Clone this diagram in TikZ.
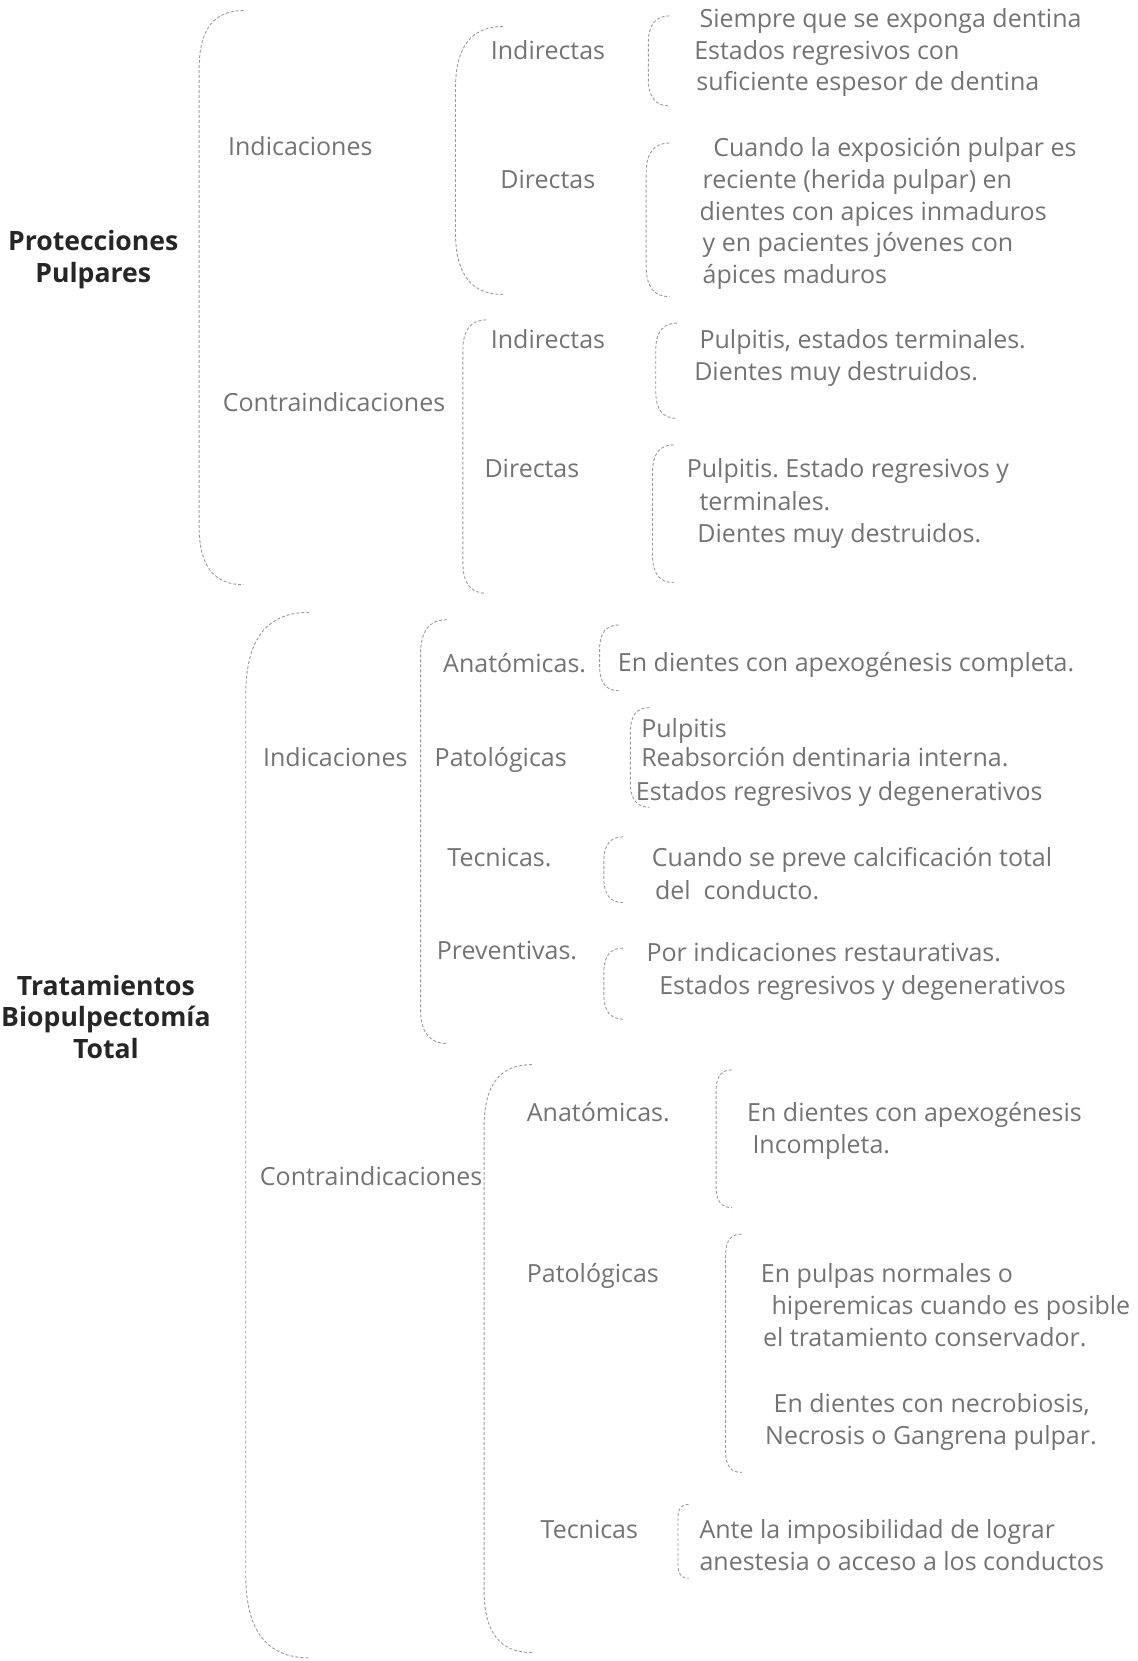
\documentclass[tikz,border=0pt]{standalone}
\usepackage{fontspec}
\setmainfont{Open Sans}
\usepackage{xcolor}
\frenchspacing

\tikzset{
	brk/.style={draw=black!40, line width=0.45pt, dash pattern=on 1.5pt off 1pt},
	title/.style={align=center, inner sep=0pt, font=\fontsize{13.3}{15.9}\selectfont\bfseries, text=black!85},
	lbl/.style={anchor=west, inner sep=0pt, font=\fontsize{12.5}{15.9}\selectfont, text=black!55, text height=8.8pt, text depth=2.7pt},
}

% left bracket: x, top, bottom, curl width
\newcommand{\openbrk}[4]{%
	\draw[brk] (#1+#4,#2) .. controls (#1+0.35*#4,#2) and (#1,#2+0.4*#4) .. (#1,#2+1.3*#4)
		-- (#1,#3-1.3*#4) .. controls (#1,#3-0.4*#4) and (#1+0.35*#4,#3) .. (#1+#4,#3);}

\begin{document}
\begin{tikzpicture}[x=0.5298pt, y=-0.5298pt]
	\useasboundingbox (0,0) rectangle (1074,1568);

	%titles
	\node[title] (prot) at (88,245) {Protecciones\\Pulpares};
	\node[title] (trat) at (100,960) {Tratamientos\\Biopulpectomía\\Total};

	%brackets
	\openbrk{188}{10}{552}{42}
	\openbrk{430}{25}{278}{45}
	\openbrk{437}{302}{560}{22}
	\openbrk{612}{15}{100}{20}
	\openbrk{610}{135}{280}{22}
	\openbrk{619}{305}{395}{20}
	\openbrk{616}{420}{550}{20}

	\openbrk{232}{578}{1565}{60}
	\openbrk{397}{585}{985}{25}
	\openbrk{457}{1005}{1560}{45}
	\openbrk{566}{590}{652}{18}
	\openbrk{595}{668}{762}{18}
	\openbrk{570}{790}{852}{18}
	\openbrk{570}{895}{962}{18}
	\openbrk{676}{1010}{1140}{15}
	\openbrk{685}{1165}{1390}{15}
	\openbrk{640}{1420}{1490}{10}

	%labels
	\node[lbl] (pind) at (215,141) {Indicaciones};
	\node[lbl] (pcon) at (210,383) {Contraindicaciones};
	\node[lbl] (pindindir) at (463,50) {Indirectas};
	\node[lbl] (pinddir) at (472,172) {Directas};
	\node[lbl] (pconindir) at (463,323) {Indirectas};
	\node[lbl] (pcondir) at (457,445) {Directas};

	\node[lbl] (tind) at (248,718) {Indicaciones};
	\node[lbl] (tcon) at (245,1113) {Contraindicaciones};
	\node[lbl] (tindana) at (418,629) {Anatómicas.};
	\node[lbl] (tindpat) at (410,718) {Patológicas};
	\node[lbl] (tindtec) at (422,812) {Tecnicas.};
	\node[lbl] (tindpre) at (412,900) {Preventivas.};
	\node[lbl] (tconana) at (497,1053) {Anatómicas.};
	\node[lbl] (tconpat) at (497,1205) {Patológicas};
	\node[lbl] (tcontec) at (510,1447) {Tecnicas};

	%leaves
	\foreach \x/\y/\t [count=\i] in {
		660/20/Siempre que se exponga dentina,
		655/50/Estados regresivos con,
		657/80/suficiente espesor de dentina,
		673/142/Cuando la exposición pulpar es,
		663/172/reciente (herida pulpar) en,
		660/202/dientes con apices inmaduros,
		663/232/y en pacientes jóvenes con,
		663/262/ápices maduros,
		660/323/{Pulpitis, estados terminales.},
		655/353/Dientes muy destruidos.,
		648/445/Pulpitis. Estado regresivos y,
		660/476/terminales.,
		658/506/Dientes muy destruidos.,
		583/628/En dientes con apexogénesis completa.,
		605/690/Pulpitis,
		605/718/Reabsorción dentinaria interna.,
		600/750/Estados regresivos y degenerativos,
		615/812/Cuando se preve calcificación total,
		618/843/del\ \ conducto.,
		610/902/Por indicaciones restaurativas.,
		622/933/Estados regresivos y degenerativos,
		705/1053/En dientes con apexogénesis,
		710/1083/Incompleta.,
		718/1205/En pulpas normales o,
		728/1235/hiperemicas cuando es posible,
		720/1265/el tratamiento conservador.,
		730/1328/{En dientes con necrobiosis,},
		722/1358/Necrosis o Gangrena pulpar.,
		660/1447/Ante la imposibilidad de lograr,
		660/1477/anestesia o acceso a los conductos}
		\node[lbl] (lf\i) at (\x,\y) {\t};
\end{tikzpicture}
\end{document}
